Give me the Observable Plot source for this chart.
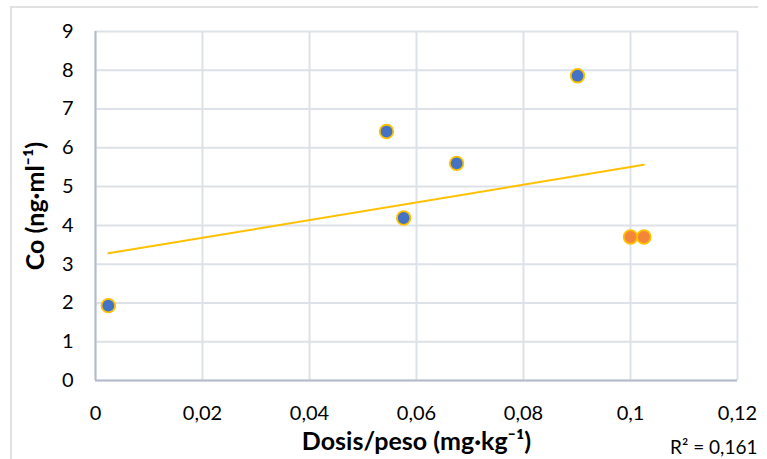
<!DOCTYPE html>
<html>
<head>
<meta charset="utf-8">
<script src="https://cdn.jsdelivr.net/npm/d3@7"></script>
<script src="https://cdn.jsdelivr.net/npm/@observablehq/plot@0.6"></script>
<style>
  html, body { margin: 0; padding: 0; background: #fff; }
  #wrap { position: relative; width: 767px; height: 459px; overflow: hidden; }
  #frame { position: absolute; left: 10px; top: 6px; width: 748px; height: 460px;
           border-top: 2px solid #e1e1e1; border-left: 2px solid #e1e1e1; box-sizing: border-box; }
  #chart { position: absolute; left: 0; top: 0; }
</style>
</head>
<body>
<div id="wrap"><div id="frame"></div><div id="chart"></div></div>
<script>
// Data
const doseX  = [0.0024, 0.0544, 0.0576, 0.0675, 0.0901, 0.1000, 0.1025];
const coY    = [1.93,   6.42,   4.19,   5.60,   7.86,   3.70,   3.70];
const group  = ["main", "main", "main", "main", "main", "outlier", "outlier"];
const xTicks = [0, 0.02, 0.04, 0.06, 0.08, 0.1, 0.12];
const yTicks = [0, 1, 2, 3, 4, 5, 6, 7, 8, 9];
const xTitle = "Dosis/peso (mg·kg⁻¹)";
const yTitle = "Co (ng·ml⁻¹)";
const r2Text = "R² = 0,161";

const data = doseX.map((x, i) => ({x, y: coY[i], g: group[i]}));
const fmt = d => String(d).replace(".", ",");
const FONT = "Lato, 'Open Sans', sans-serif";

const chart = Plot.plot({
  width: 767,
  height: 459,
  marginLeft: 95,
  marginRight: 30,
  marginTop: 31,
  marginBottom: 79,
  style: {fontFamily: FONT, fontSize: "20px", color: "#000", background: "transparent"},
  x: {domain: [0, 0.12]},
  y: {domain: [0, 9]},
  marks: [
    Plot.gridX(xTicks, {stroke: "#dde1e8", strokeOpacity: 1, strokeWidth: 2}),
    Plot.gridY(yTicks, {stroke: "#dde1e8", strokeOpacity: 1, strokeWidth: 2}),
    Plot.ruleX([0], {stroke: "#b4bccb", strokeWidth: 2}),
    Plot.ruleY([0], {stroke: "#b4bccb", strokeWidth: 2}),
    Plot.axisX(xTicks, {tickSize: 0, tickPadding: 25, tickFormat: fmt, label: null, fill: "#000", fontSize: 20}),
    Plot.axisY(yTicks, {tickSize: 0, tickPadding: 22, tickFormat: fmt, label: null, fill: "#000", fontSize: 20}),
    Plot.linearRegressionY(data, {x: "x", y: "y", ci: 0, stroke: "#FFC000", strokeWidth: 2}),
    Plot.dot(data, {x: "x", y: "y", r: 6.8, strokeWidth: 1.8, stroke: "#FFC000",
      fill: d => d.g === "main" ? "#4472C4" : "#F4863B"}),
    Plot.text([xTitle], {frameAnchor: "bottom", dy: 61, textAnchor: "middle", lineAnchor: "middle",
      fontWeight: "bold", fontSize: 25, fill: "#000"}),
    Plot.text([yTitle], {frameAnchor: "left", dx: -60, rotate: -90, textAnchor: "middle", lineAnchor: "middle",
      fontWeight: "bold", fontSize: 25, fill: "#000"}),
    Plot.text([r2Text], {frameAnchor: "bottom-right", dx: 20, dy: 67, textAnchor: "end", lineAnchor: "middle",
      fontSize: 19, fill: "#000"})
  ]
});
document.getElementById("chart").appendChild(chart);
</script>
</body>
</html>
